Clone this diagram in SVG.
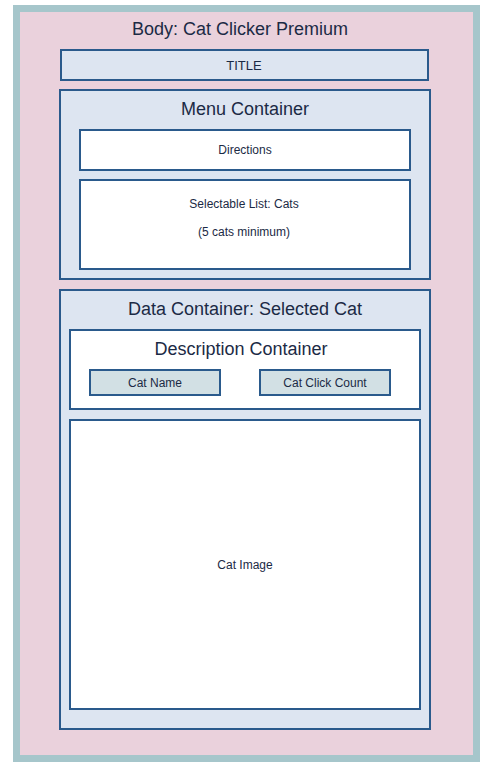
<svg xmlns="http://www.w3.org/2000/svg" width="497" height="779" viewBox="0 0 497 779">
<style>
text{font-family:"Liberation Sans",Arial,sans-serif;fill:#1b2a45;text-anchor:middle}
.box{stroke:#2a5a8c;stroke-width:2}
.lt{fill:#dde5f1}
.wh{fill:#ffffff}
.gr{fill:#d2e0e4}
.big{font-size:18px}
.mid{font-size:18px}
.sm{font-size:13px}
.xs{font-size:12px}
</style>
<rect width="497" height="779" fill="#ffffff"/>
<g id="body">
<rect x="16.5" y="8.5" width="460" height="750" fill="#ead1dc" stroke="#a6c6cb" stroke-width="7"/>
<text class="big" x="240" y="35">Body: Cat Clicker Premium</text>
</g>
<g id="title">
<rect class="box lt" x="61" y="50" width="367" height="30"/>
<text class="sm" x="244" y="70">TITLE</text>
</g>
<g id="menu">
<rect class="box lt" x="60" y="90" width="370" height="189"/>
<text class="mid" x="245" y="115">Menu Container</text>
</g>
<g id="directions">
<rect class="box wh" x="80" y="130" width="330" height="40"/>
<text class="xs" x="245" y="154">Directions</text>
</g>
<g id="list">
<rect class="box wh" x="80" y="180" width="330" height="89"/>
<text class="xs" x="244" y="208">Selectable List: Cats</text>
<text class="xs" x="244" y="236">(5 cats minimum)</text>
</g>
<g id="data">
<rect class="box lt" x="60" y="290" width="370" height="439"/>
<text class="mid" x="245" y="315">Data Container: Selected Cat</text>
</g>
<g id="description">
<rect class="box wh" x="70" y="330" width="350" height="79"/>
<text class="mid" x="241" y="355">Description Container</text>
</g>
<g id="catname">
<rect class="box gr" x="90" y="370" width="130" height="25"/>
<text class="xs" x="155" y="387">Cat Name</text>
</g>
<g id="clickcount">
<rect class="box gr" x="260" y="370" width="130" height="25"/>
<text class="xs" x="325" y="387">Cat Click Count</text>
</g>
<g id="image">
<rect class="box wh" x="70" y="420" width="350" height="289"/>
<text class="xs" x="245" y="569">Cat Image</text>
</g>
<g id="connectors"></g>
</svg>
